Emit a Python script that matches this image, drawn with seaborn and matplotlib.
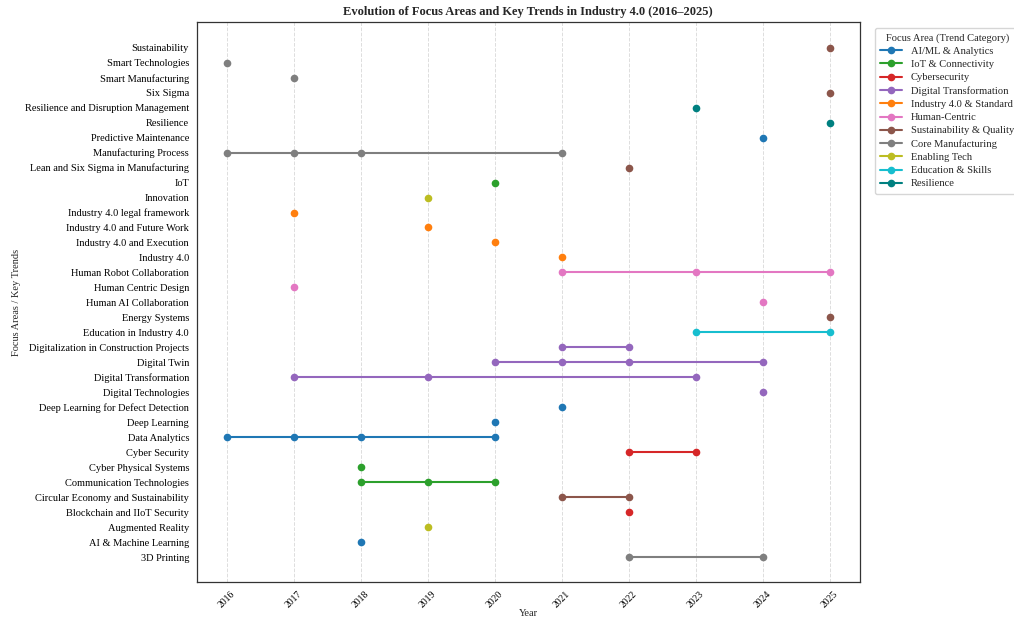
import matplotlib
matplotlib.use("Agg")
import matplotlib.pyplot as plt
from matplotlib.lines import Line2D
import seaborn as sns
import pandas as pd

# Focus areas (bottom to top), their trend category and the years they appear
topics = [
    "3D Printing", "AI & Machine Learning", "Augmented Reality",
    "Blockchain and IIoT Security", "Circular Economy and Sustainability",
    "Communication Technologies", "Cyber Physical Systems", "Cyber Security",
    "Data Analytics", "Deep Learning", "Deep Learning for Defect Detection",
    "Digital Technologies", "Digital Transformation", "Digital Twin",
    "Digitalization in Construction Projects", "Education in Industry 4.0",
    "Energy Systems", "Human AI Collaboration", "Human Centric Design",
    "Human Robot Collaboration", "Industry 4.0", "Industry 4.0 and Execution",
    "Industry 4.0 and Future Work", "Industry 4.0 legal framework",
    "Innovation", "IoT", "Lean and Six Sigma in Manufacturing",
    "Manufacturing Process", "Predictive Maintenance", "Resilience",
    "Resilience and Disruption Management", "Six Sigma",
    "Smart Manufacturing", "Smart Technologies", "Sustainability",
]
topic_category = [
    "Core Manufacturing", "AI/ML & Analytics", "Enabling Tech",
    "Cybersecurity", "Sustainability & Quality",
    "IoT & Connectivity", "IoT & Connectivity", "Cybersecurity",
    "AI/ML & Analytics", "AI/ML & Analytics", "AI/ML & Analytics",
    "Digital Transformation", "Digital Transformation", "Digital Transformation",
    "Digital Transformation", "Education & Skills",
    "Sustainability & Quality", "Human-Centric", "Human-Centric",
    "Human-Centric", "Industry 4.0 & Standard", "Industry 4.0 & Standard",
    "Industry 4.0 & Standard", "Industry 4.0 & Standard",
    "Enabling Tech", "IoT & Connectivity", "Sustainability & Quality",
    "Core Manufacturing", "AI/ML & Analytics", "Resilience",
    "Resilience", "Sustainability & Quality",
    "Core Manufacturing", "Core Manufacturing", "Sustainability & Quality",
]
topic_years = [
    [2022, 2024], [2018], [2019],
    [2022], [2021, 2022],
    [2018, 2019, 2020], [2018], [2022, 2023],
    [2016, 2017, 2018, 2020], [2020], [2021],
    [2024], [2017, 2019, 2023], [2020, 2021, 2022, 2024],
    [2021, 2022], [2023, 2025],
    [2025], [2024], [2017],
    [2021, 2023, 2025], [2021], [2020],
    [2019], [2017],
    [2019], [2020], [2022],
    [2016, 2017, 2018, 2021], [2024], [2025],
    [2023], [2025],
    [2017], [2016], [2025],
]

categories = [
    "AI/ML & Analytics", "IoT & Connectivity", "Cybersecurity",
    "Digital Transformation", "Industry 4.0 & Standard", "Human-Centric",
    "Sustainability & Quality", "Core Manufacturing", "Enabling Tech",
    "Education & Skills", "Resilience",
]
category_colors = [
    "#1f77b4", "#2ca02c", "#d62728", "#9467bd", "#ff7f0e", "#e377c2",
    "#8c564b", "#7f7f7f", "#bcbd22", "#17becf", "#008080",
]
year_ticks = list(range(2016, 2026))

rows = []
for pos, (name, cat, yrs) in enumerate(zip(topics, topic_category, topic_years)):
    for yr in yrs:
        rows.append({"Topic": name, "Category": cat, "Year": yr, "pos": pos})
df = pd.DataFrame(rows)
palette = dict(zip(categories, category_colors))

sns.set_style("white")
plt.rcParams["font.family"] = ["Liberation Serif", "DejaVu Serif"]

fig = plt.figure(figsize=(10.14, 6.19), dpi=100)
ax = fig.add_axes([0.194, 0.059, 0.654, 0.905])

for name in topics:
    sub = df[df["Topic"] == name]
    sns.lineplot(data=sub, x="Year", y="pos", color=palette[sub["Category"].iloc[0]],
                 marker="o", markersize=5.5, markeredgewidth=0, linewidth=1.5,
                 estimator=None, sort=True, ax=ax, legend=False)

ax.set_yticks(range(len(topics)))
ax.set_yticklabels(topics, fontsize=7.5)
ax.set_xticks(year_ticks)
ax.set_xticklabels([str(y) for y in year_ticks], rotation=45, fontsize=7)
ax.margins(x=0.05, y=0.05)
ax.grid(axis="x", linestyle="--", color="#dddddd", linewidth=0.7)
ax.tick_params(axis="both", length=3, width=0.8, colors="#333333", labelcolor="black")
ax.tick_params(axis="y", pad=2.5)
ax.tick_params(axis="x", pad=2)
for s in ax.spines.values():
    s.set_color("#333333")
    s.set_linewidth(0.9)

ax.set_xlabel("Year", fontsize=7.5, labelpad=0)
ax.set_ylabel("Focus Areas / Key Trends", fontsize=7.5, labelpad=3)
ax.set_title("Evolution of Focus Areas and Key Trends in Industry 4.0 (2016\u20132025)",
             fontsize=9, fontweight="bold", pad=5)

handles = [Line2D([0], [0], color=c, marker="o", markersize=5.5, markeredgewidth=0,
                  linewidth=1.5) for c in category_colors]
leg = ax.legend(handles, categories, title="Focus Area (Trend Category)",
                loc="upper left", bbox_to_anchor=(1.023, 0.99), fontsize=7.6,
                title_fontsize=7.6, frameon=True, handlelength=2.0,
                handletextpad=0.9, labelspacing=0.36, borderaxespad=0.0,
                borderpad=0.5)
leg.get_frame().set_edgecolor("#cccccc")

fig.savefig("out.png", dpi=100)
